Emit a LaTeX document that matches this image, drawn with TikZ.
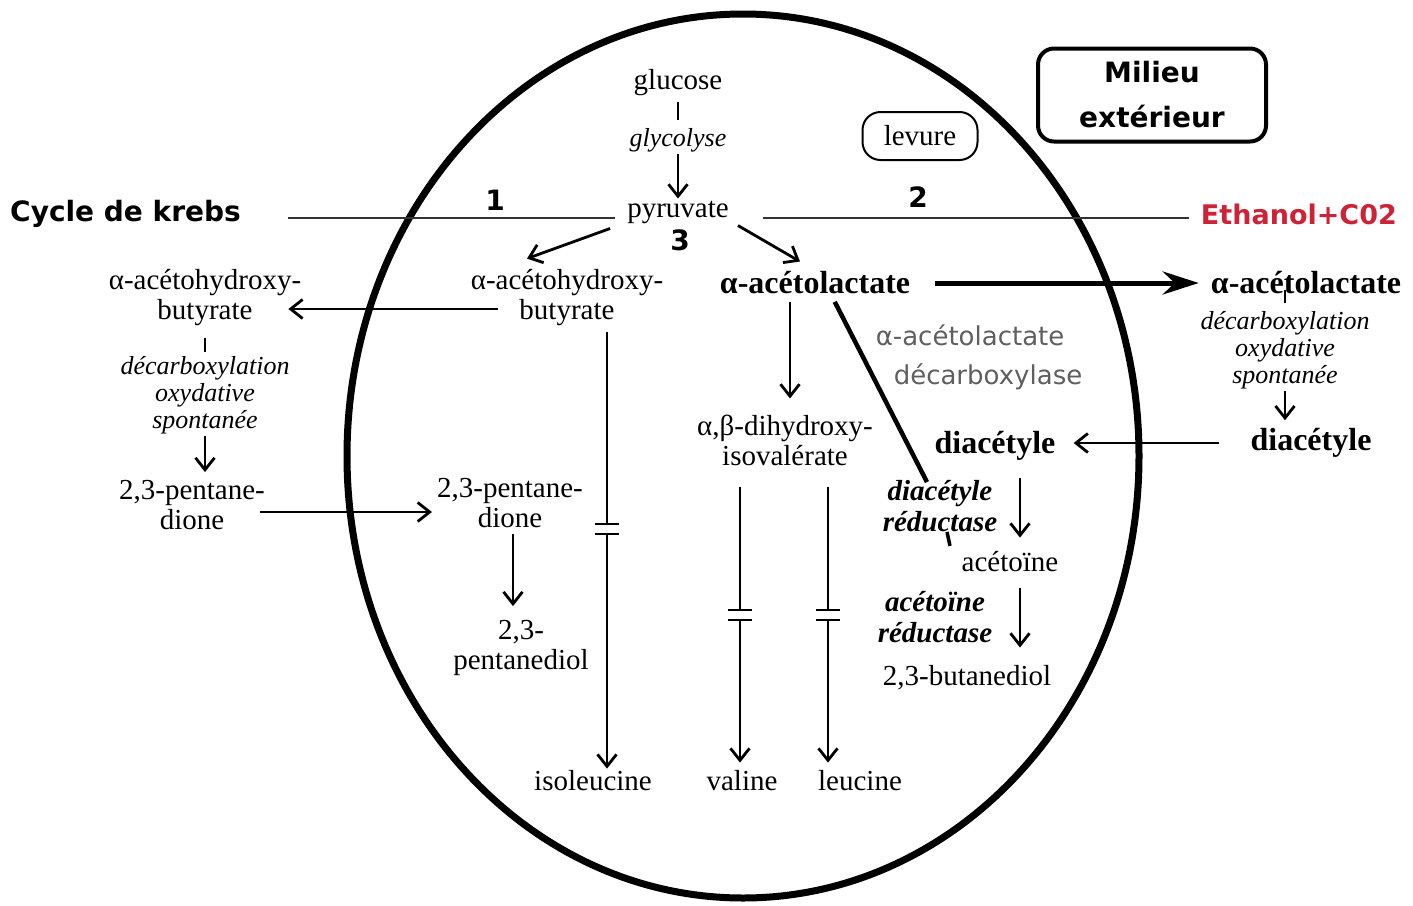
\documentclass[tikz,border=0pt]{standalone}
\usepackage{fontspec}
\setmainfont{Liberation Serif}
\newfontfamily\comicfont{DejaVu Sans}
\usetikzlibrary{arrows.meta}
\definecolor{redlabel}{RGB}{205,35,55}
\definecolor{enzgrey}{RGB}{95,95,95}

\begin{document}
\begin{tikzpicture}[x=1pt,y=-1pt,
  every node/.style={inner sep=2pt},
  chem/.style={font=\fontsize{29}{30}\selectfont, align=center},
  chemb/.style={font=\fontsize{32}{34}\selectfont\bfseries, align=center},
  enz/.style={font=\fontsize{26}{27}\selectfont\itshape, align=center},
  enzb/.style={font=\fontsize{29}{31}\selectfont\bfseries\itshape, align=center},
  tag/.style={font={\comicfont\bfseries\fontsize{28}{30}\selectfont}},
  conn/.style={line width=2.8pt, -{Straight Barb[length=12pt,width=19pt,line width=2.8pt]}},
  link/.style={line width=2.8pt},
  route/.style={line width=2.6pt, draw=black!80},
  bigconn/.style={line width=5pt, -{Stealth[length=36pt,width=23pt,inset=12pt]}},
  brk/.pic={
    \fill[white] (-13pt,-5pt) rectangle (13pt,5pt);
    \draw[line width=2.5pt] (-12pt,-5pt) -- (12pt,-5pt) (-12pt,5pt) -- (12pt,5pt);
  },
]
\useasboundingbox (0,0) rectangle (1413,905);
\fill[white] (0,0) rectangle (1413,905);

% yeast cell wall
\draw[line width=7pt] (743,456) ellipse [x radius=396pt, y radius=442pt];

% labels outside the cell
\node[tag, anchor=west] (krebs) at (8,214) {Cycle de krebs};
\node[tag, anchor=east, text=redlabel, font={\comicfont\bfseries\fontsize{27}{30}\selectfont}] (ethanol) at (1399,214) {Ethanol+C02};
\node[draw, line width=4pt, rounded corners=16pt, minimum width=228pt, minimum height=93pt,
      align=center, font={\comicfont\bfseries\fontsize{28}{45}\selectfont}] (milieu) at (1152,95) {Milieu\\extérieur};
\node[draw, line width=2pt, rounded corners=18pt, minimum width=115pt, minimum height=48pt, chem] (levure) at (920,136) {levure};

\node[tag] (n1) at (495,200) {1};
\node[tag] (n2) at (918,197) {2};
\node[tag] (n3) at (680,240) {3};

% central pathway
\node[chem] (glucose) at (678,83) {glucose};
\node[enz] (glyco) at (678,140) {glycolyse};
\node[chem] (pyr) at (678,212) {pyruvate};

\node[chem] (hbIn) at (567,298) {α-acétohydroxy-\\butyrate};
\node[chemb] (alIn) at (815,283) {α-acétolactate};
\node[chem] (hbOut) at (205,298) {α-acétohydroxy-\\butyrate};
\node[enz] (decL) at (205,395) {décarboxylation\\oxydative\\spontanée};
\node[chem] (pdOut) at (192,505) {2,3-pentane-\\dione};
\node[chem] (pdIn) at (510,503) {2,3-pentane-\\dione};
\node[chem] (pdiol) at (521,648) {2,3-\\pentanediol};
\node[chem] (dhiv) at (785,440) {α,β-dihydroxy-\\isovalérate};
\node[chem] (iso) at (593,781) {isoleucine};
\node[chem] (val) at (742,781) {valine};
\node[chem] (leu) at (860,781) {leucine};

\node[chemb] (alOut) at (1306,283) {α-acétolactate};
\node[enz] (decR) at (1285,350) {décarboxylation\\oxydative\\spontanée};
\node[chemb] (diaOut) at (1311,443) {diacétyle};
\node[chemb] (diaIn) at (995,446) {diacétyle};
\node[text=enzgrey, align=left, font={\comicfont\fontsize{26}{39}\selectfont}] (alcdc) at (979,357)
     {α-acétolactate\\\hspace*{18pt}décarboxylase};
\node[enzb] (dr) at (940,506) {diacétyle\\réductase};
\node[chem] (acet) at (1010,562) {acétoïne};
\node[enzb] (ar) at (935,617) {acétoïne\\réductase};
\node[chem] (bdiol) at (967,678) {2,3-butanediol};

% connectors
\draw[link, shorten <=4pt, shorten >=6pt] (glucose) -- (glyco);
\draw[conn] (glyco) -- (pyr);
\draw[route, shorten <=45pt, shorten >=10pt] ([yshift=-4pt]krebs.east) -- ([yshift=-6pt]pyr.west);
\draw[route, shorten <=32pt, shorten >=10pt] ([yshift=-6pt]pyr.east) -- ([yshift=-4pt]ethanol.west);
\draw[conn] ([xshift=-15pt,yshift=-3pt]pyr.south west) -- ([xshift=-40pt,yshift=9pt]hbIn.north);
\draw[conn] ([xshift=7pt]pyr.south east) -- ([xshift=-15pt,yshift=8pt]alIn.north);

\draw[conn] ([xshift=29pt,yshift=-11pt]hbIn.west) -- ([xshift=-15pt,yshift=-11pt]hbOut.east);
\draw[link, shorten <=10pt, shorten >=2pt] (hbOut.south) -- (decL.north);
\draw[conn, shorten >=6pt] (decL.south) -- (decL.south |- pdOut.north);
\draw[conn] ([xshift=-7pt,yshift=-7pt]pdOut.east) -- ([xshift=-3pt,yshift=-9pt]pdIn.west);
\draw[conn, shorten <=4pt, shorten >=12pt] ([xshift=3pt]pdIn.south) -- ([xshift=3pt]pdIn.south |- pdiol.north);

% isoleucine branch, interrupted
\coordinate (isoTop) at ([xshift=40pt,yshift=-4pt]hbIn.south);
\coordinate (isoBrk) at (isoTop |- 0,529);
\draw[conn] (isoTop) -- (isoTop |- iso.north);
\pic at (isoBrk) {brk};

% valine / leucine branches, interrupted
\draw[conn, shorten <=6pt, shorten >=14pt] ([xshift=-25pt]alIn.south) -- ([xshift=-25pt]alIn.south |- dhiv.north);
\coordinate (valTop) at ([xshift=-45pt,yshift=-19pt]dhiv.south);
\coordinate (leuTop) at ([xshift=43pt,yshift=-19pt]dhiv.south);
\draw[conn, shorten >=6pt] (valTop) -- (valTop |- val.north);
\draw[conn, shorten >=6pt] (leuTop) -- (leuTop |- leu.north);
\pic at (valTop |- 0,615) {brk};
\pic at (leuTop |- 0,615) {brk};

% export of acetolactate and return of diacetyl
\draw[bigconn, shorten <=23pt, shorten >=10pt] (alIn.east) -- (alOut.west);
\draw[link, shorten <=-6pt, shorten >=6pt] (decR.north |- alOut.south) -- (decR.north);
\draw[conn, shorten >=6pt] (decR.south) -- (decR.south |- diaOut.north);
\draw[conn, shorten <=29pt, shorten >=16pt] (diaOut.west) -- (diaOut.west -| diaIn.east);

% decarboxylase link and reductions
\draw[line width=4.5pt, shorten <=6pt] ([xshift=17pt]alIn.south) -- ([xshift=-13pt,yshift=-4pt]dr.north);
\draw[line width=3.5pt] ([xshift=7pt,yshift=2pt]dr.south) -- ([xshift=10pt,yshift=-12pt]dr.south);
\draw[conn, shorten <=15pt, shorten >=12pt] ([xshift=25pt]diaIn.south) -- ([xshift=25pt]diaIn.south |- acet.north);
\draw[conn, shorten <=14pt, shorten >=16pt] ([xshift=10pt]acet.south) -- ([xshift=10pt]acet.south |- bdiol.north);
\end{tikzpicture}
\end{document}
